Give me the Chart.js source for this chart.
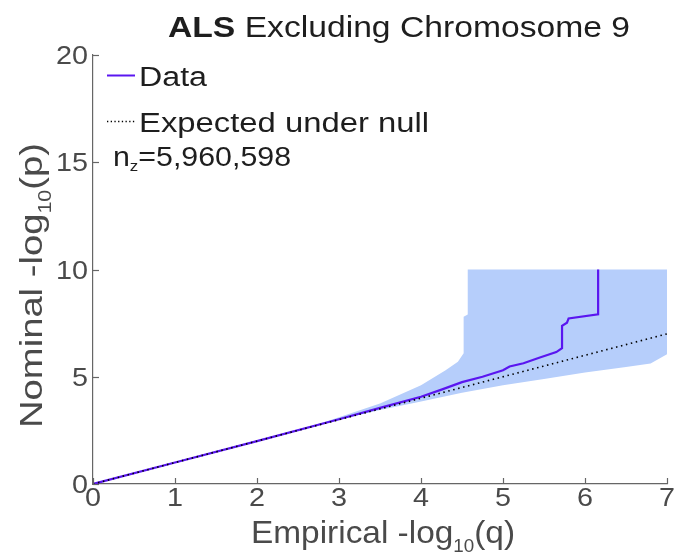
<!DOCTYPE html>
<html>
<head>
<meta charset="utf-8">
<script src="https://cdn.jsdelivr.net/npm/chart.js@4/dist/chart.umd.min.js"></script>
<style>
  html,body{margin:0;padding:0;background:#fff;}
  #wrap{width:678px;height:556px;}
</style>
</head>
<body>
<div id="wrap"><canvas id="qq"></canvas></div>
<script>
// QQ plot values (x = empirical -log10 q, y = nominal -log10 p)
const dataX = [0, 1, 2, 3, 3.5, 4, 4.25, 4.5, 4.75, 5.0, 5.08, 5.25, 5.45, 5.65, 5.72, 5.72, 5.78, 5.80, 6.16, 6.16];
const dataY = [0, 1, 2, 3.02, 3.55, 4.07, 4.4, 4.75, 5.0, 5.3, 5.48, 5.63, 5.9, 6.15, 6.33, 7.37, 7.52, 7.72, 7.91, 10];
const nullX = [0, 7];
const nullY = [0, 7];
// confidence band edges
const upperX = [0, 2.8, 3.5, 4.0, 4.3, 4.45, 4.52, 4.52, 4.57, 4.57, 7];
const upperY = [0, 2.85, 3.75, 4.6, 5.3, 5.7, 6.1, 7.8, 7.9, 10, 10];
const lowerX = [0, 3, 3.5, 4, 4.5, 5, 5.5, 6, 6.5, 6.8, 7, 7];
const lowerY = [0, 3, 3.45, 3.85, 4.25, 4.6, 4.9, 5.2, 5.45, 5.62, 6.05, 10];
const xTicks = [0, 1, 2, 3, 4, 5, 6, 7];
const yTicks = [0, 5, 10, 15, 20];
const nSnps = '5,960,598';

const toPts = (xs, ys) => xs.map((x, i) => ({x: x, y: ys[i]}));
const bandPoly = toPts(upperX, upperY).concat(toPts(lowerX, lowerY).reverse());

const FONT = '"Liberation Sans", Arial, Helvetica, sans-serif';
const STRETCH = 1.15; // the source figure's text is a bit wide

function drawParts(ctx, parts, x, y){
  let cx = x;
  parts.forEach(p=>{
    ctx.font = (p.bold ? 'bold ' : '') + p.size + 'px ' + FONT;
    ctx.fillText(p.t, cx, y + (p.dy || 0));
    cx += ctx.measureText(p.t).width;
  });
  return cx - x;
}
function partsWidth(ctx, parts){
  let w = 0;
  parts.forEach(p=>{ ctx.font = (p.bold ? 'bold ' : '') + p.size + 'px ' + FONT; w += ctx.measureText(p.t).width; });
  return w;
}
// draw parts squeezed/stretched to span x0..x1
function drawFit(ctx, parts, x0, x1, base){
  const sx = (x1 - x0) / partsWidth(ctx, parts);
  ctx.save();
  ctx.translate(x0, base);
  ctx.scale(sx, 1);
  drawParts(ctx, parts, 0, 0);
  ctx.restore();
}
function drawLabel(ctx, txt, size, x, base, align){
  ctx.font = size + 'px ' + FONT;
  const w = ctx.measureText(txt).width * STRETCH;
  const x0 = align === 'right' ? x - w : x - w/2;
  ctx.save();
  ctx.translate(x0, base);
  ctx.scale(STRETCH, 1);
  ctx.fillText(txt, 0, 0);
  ctx.restore();
}

const overlay = {
  id: 'overlay',
  afterDraw(chart){
    const ctx = chart.ctx;
    const xs = chart.scales.x, ys = chart.scales.y;
    const area = chart.chartArea;
    ctx.save();
    // inside ticks
    ctx.strokeStyle = '#666';
    ctx.lineWidth = 1.2;
    xTicks.forEach(v=>{
      const px = Math.round(xs.getPixelForValue(v)) + 0.5;
      ctx.beginPath(); ctx.moveTo(px, area.bottom); ctx.lineTo(px, area.bottom - 6); ctx.stroke();
    });
    yTicks.forEach(v=>{
      const py = Math.round(ys.getPixelForValue(v)) + 0.5;
      ctx.beginPath(); ctx.moveTo(area.left, py); ctx.lineTo(area.left + 6, py); ctx.stroke();
    });

    ctx.textBaseline = 'alphabetic';
    ctx.textAlign = 'left';

    // tick labels
    ctx.fillStyle = '#4a4a4a';
    xTicks.forEach(v=>{
      drawLabel(ctx, String(v), 25, xs.getPixelForValue(v), area.bottom + 22, 'center');
    });
    yTicks.forEach(v=>{
      drawLabel(ctx, String(v), 25, area.left - 5, ys.getPixelForValue(v) + 9, 'right');
    });

    // title
    ctx.fillStyle = '#1e1e1e';
    drawFit(ctx, [{t:'ALS', size:30, bold:true}, {t:' Excluding Chromosome 9', size:30}], 168, 630, 37);

    // axis titles
    ctx.fillStyle = '#4a4a4a';
    drawFit(ctx, [{t:'Empirical -log', size:32}, {t:'10', size:18, dy:9}, {t:'(q)', size:32}], 251, 515, 543);
    ctx.save();
    ctx.translate(42, 428);
    ctx.rotate(-Math.PI/2);
    drawFit(ctx, [{t:'Nominal -log', size:32}, {t:'10', size:18, dy:9}, {t:'(p)', size:32}], 0, 285, 0);
    ctx.restore();

    // legend
    ctx.fillStyle = '#1e1e1e';
    ctx.strokeStyle = '#5a16f0';
    ctx.lineWidth = 2;
    ctx.beginPath(); ctx.moveTo(107, 75.5); ctx.lineTo(135, 75.5); ctx.stroke();
    drawFit(ctx, [{t:'Data', size:27}], 139, 207, 85.5);
    ctx.strokeStyle = '#000';
    ctx.lineWidth = 1.3;
    ctx.setLineDash([1.3, 2.4]);
    ctx.beginPath(); ctx.moveTo(107, 121.5); ctx.lineTo(135, 121.5); ctx.stroke();
    ctx.setLineDash([]);
    drawFit(ctx, [{t:'Expected under null', size:27}], 139, 429, 132);
    drawFit(ctx, [{t:'n', size:27}, {t:'z', size:15, dy:5}, {t:'=' + nSnps, size:27}], 113, 291, 166);
    ctx.restore();
  }
};

new Chart(document.getElementById('qq'), {
  type: 'scatter',
  data: {
    datasets: [
      {label:'Expected under null', data: toPts(nullX, nullY), showLine:true, borderColor:'#000', borderWidth:1.6,
       borderDash:[1.5, 3.6], pointRadius:0, fill:false, order:0},
      {label:'Data', data: toPts(dataX, dataY), showLine:true, borderColor:'#5a16f0', borderWidth:2.2,
       pointRadius:0, fill:false, order:1},
      {label:'band', data: bandPoly, showLine:true, borderColor:'rgba(0,0,0,0)', borderWidth:0,
       backgroundColor:'#b6cefb', pointRadius:0, fill:'shape', order:2}
    ]
  },
  options: {
    responsive: true,
    maintainAspectRatio: false,
    animation: false,
    layout: {padding: {left:0, right:11, top:55, bottom:0}},
    plugins: {legend:{display:false}, tooltip:{enabled:false}, title:{display:false}},
    scales: {
      x: {
        type:'linear', min:0, max:7,
        afterFit: s => { s.height = 72; },
        afterBuildTicks: s => { s.ticks = xTicks.map(v=>({value:v})); },
        grid: {display:false},
        border: {display:true, color:'#666', width:1.2},
        ticks: {display:false}
      },
      y: {
        type:'linear', min:0, max:20,
        afterFit: s => { s.width = 93; },
        afterBuildTicks: s => { s.ticks = yTicks.map(v=>({value:v})); },
        grid: {display:false},
        border: {display:true, color:'#666', width:1.2},
        ticks: {display:false}
      }
    }
  },
  plugins: [overlay]
});
</script>
</body>
</html>
